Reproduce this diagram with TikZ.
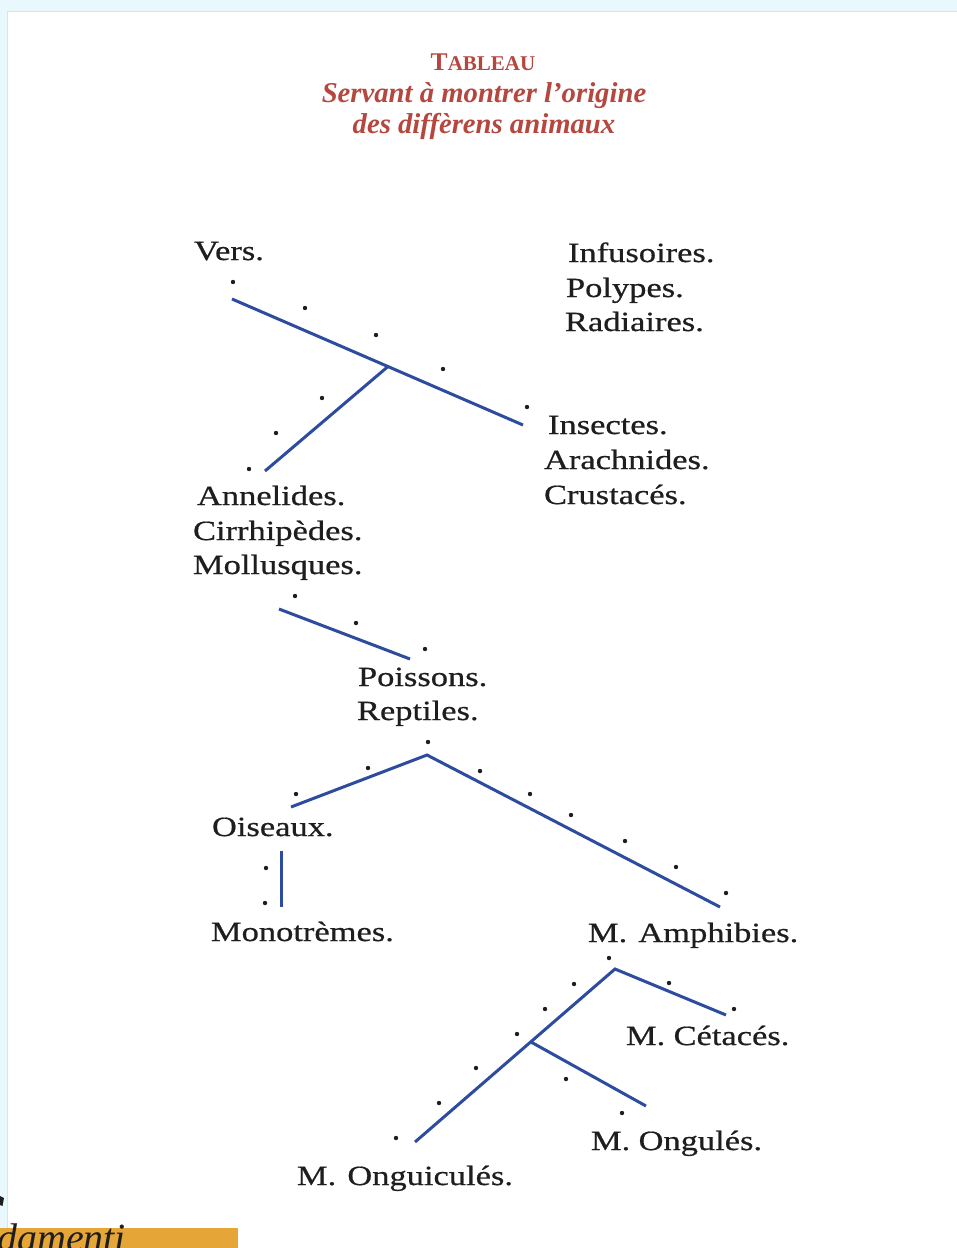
\documentclass[tikz,border=0pt]{standalone}
\usepackage{fontspec}
\setmainfont{Liberation Serif}
\newfontfamily\bodyfont[FakeStretch=1.24,FakeBold=0.6]{Liberation Serif}
\definecolor{inkblack}{HTML}{1E1E1E}
\definecolor{lineblue}{HTML}{2D4B9F}
\definecolor{titlered}{HTML}{B5473F}
\definecolor{barorange}{HTML}{E6A537}
\definecolor{edgecyan}{HTML}{E9F8FD}
\definecolor{edgeline}{HTML}{DCE0F0}
\begin{document}
\begin{tikzpicture}[x=1pt,y=-1pt,
  lbl/.style={anchor=base west,inner sep=0pt,outer sep=0pt,text=inkblack,
    font=\bodyfont\fontsize{27.8}{33}\selectfont},
  ttl/.style={anchor=base,inner sep=0pt,outer sep=0pt,text=titlered,
    font=\bfseries\itshape\fontsize{28.7}{33}\selectfont},
  branch/.style={draw=lineblue,line width=3pt},
  dotmark/.style={fill=inkblack}]
\useasboundingbox (0,0) rectangle (957,1248);
\fill[white] (0,0) rectangle (957,1248);
\fill[edgecyan] (0,0) rectangle (957,11);
\fill[edgecyan] (0,0) rectangle (7,1248);
\draw[edgeline,line width=0.8pt] (7,11.4) -- (957,11.4);
\draw[edgeline,line width=0.8pt] (7.4,11) -- (7.4,1248);

% title
\node[ttl,font=\bfseries\fontsize{25.5}{25}\selectfont] (tableau) at (483,70)
  {T{\fontsize{21}{21}\selectfont ABLEAU}};
\node[ttl] (servant) at (484,102) {Servant à montrer l’origine};
\node[ttl] (des) at (484,133) {des diffèrens animaux};

% labels
\node[lbl] (vers) at (194,260) {Vers.};
\node[lbl] (infus) at (568,262) {Infusoires.};
\node[lbl] (polyp) at (566,297) {Polypes.};
\node[lbl] (radi) at (565,331) {Radiaires.};
\node[lbl] (insect) at (548,434) {Insectes.};
\node[lbl] (arach) at (544,469) {Arachnides.};
\node[lbl] (crust) at (544,504) {Crustacés.};
\node[lbl] (annel) at (197,505) {Annelides.};
\node[lbl] (cirrh) at (193,540) {Cirrhipèdes.};
\node[lbl] (mollu) at (193,574) {Mollusques.};
\node[lbl] (poiss) at (358,686) {Poissons.};
\node[lbl] (rept) at (357,720) {Reptiles.};
\node[lbl] (ois) at (212,836) {Oiseaux.};
\node[lbl] (mono) at (211,941) {Monotrèmes.};
\node[lbl] (amph) at (588,942) {M.\hspace{0.4em}Amphibies.};
\node[lbl] (ceta) at (626,1045) {M.\hspace{0.3em}Cétacés.};
\node[lbl] (ongu) at (591,1150) {M.\hspace{0.3em}Ongulés.};
\node[lbl] (onguic) at (297,1185) {M.\hspace{0.4em}Onguiculés.};

% branch points
\coordinate (a1) at (232,299);
\coordinate (a2) at (523,425);
\coordinate (aj) at (388,366.5);
\coordinate (a3) at (265,471);
\coordinate (b1) at (279,609);
\coordinate (b2) at (410,659);
\coordinate (c1) at (291,807);
\coordinate (ctop) at (427,755);
\coordinate (c2) at (720,907);
\coordinate (d1) at (281,851);
\coordinate (d2) at (281,907);
\coordinate (e1) at (415,1142);
\coordinate (etop) at (615,969);
\coordinate (e2) at (726,1015);
\coordinate (ej) at (531,1042);
\coordinate (e3) at (646,1106);

\draw[branch] (a1) -- (a2);
\draw[branch] (aj) -- (a3);
\draw[branch] (b1) -- (b2);
\draw[branch] (c1) -- (ctop) -- (c2);
\draw[branch] (d1) -- (d2);
\draw[branch] (e1) -- (etop) -- (e2);
\draw[branch] (ej) -- (e3);

% dots
\foreach \p in {(233,282),(305,308),(376,335),(443,369),(527,407),(322,398),(276,433),(249,469),
  (295,596),(356,623),(425,649),(428,742),
  (368,768),(296,794),(480,771),(530,794),(571,815),(625,841),(676,867),(726,893),(266,868),(265,903),
  (609,958),(574,984),(545,1009),(517,1034),(476,1068),(439,1103),(396,1138),(669,983),(734,1009),(566,1079),(622,1113)}
  \fill[dotmark] \p circle (2.2);

% bottom-left fragment
\begin{scope}
\clip (0,0) rectangle (957,1248);
\fill[barorange] (0,1228) rectangle (238,1248);
\node[anchor=base west,inner sep=0pt,text=inkblack,font=\itshape\fontsize{40}{40}\selectfont] (frag) at (-3,1251) {damenti};
\fill[inkblack] (0,1196) -- (4,1198) -- (2.5,1206) -- (0,1205) -- cycle;
\end{scope}
\end{tikzpicture}
\end{document}
